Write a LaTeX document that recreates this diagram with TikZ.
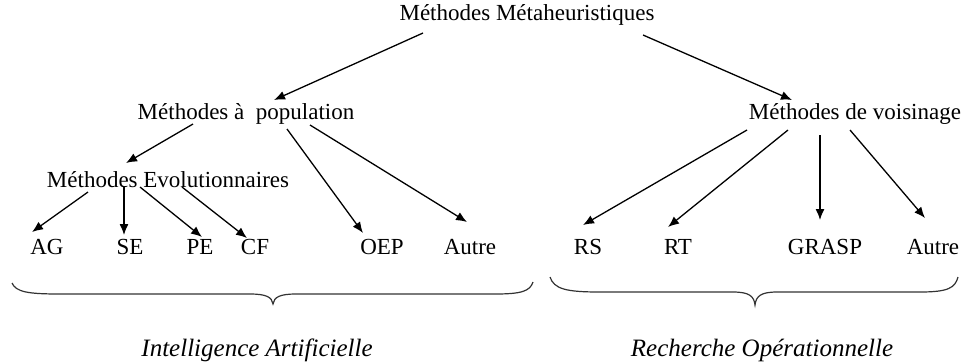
\documentclass[tikz,border=0pt]{standalone}
\usepackage{fontspec}
\setmainfont{Liberation Serif}
\usetikzlibrary{arrows.meta,calc}

\begin{document}
\begin{tikzpicture}[x=0.5pt,y=-0.5pt]
\path [use as bounding box] (0,0) rectangle (961,361);
\tikzstyle{every node} = [inner sep=1pt, font=\fontsize{11.5}{13}\selectfont]
\tikzstyle{fleche} = [-{Latex[length=5.5pt,width=4.5pt]}, line width=0.65pt]
\tikzstyle{accolade} = [line width=0.6pt, black!80]
\tikzstyle{domaine} = [font=\fontsize{12.5}{14}\selectfont\itshape]
% niveaux de l'arbre
\node (meta) at (527,15) {Méthodes Métaheuristiques};
\node (pop) at (246,114) {Méthodes à \ population};
\node (vois) at (855,114) {Méthodes de voisinage};
\node (evol) at (168,180) {Méthodes Evolutionnaires};
\node (ag) at (47,247) {AG};
\node (se) at (130,247) {SE};
\node (pe) at (200,247) {PE};
\node (cf) at (255,247) {CF};
\node (oep) at (382,247) {OEP};
\node (autreA) at (470,247) {Autre};
\node (rs) at (588,247) {RS};
\node (rt) at (678,247) {RT};
\node (grasp) at (825,247) {GRASP};
\node (autreB) at (933,247) {Autre};
\node[domaine] (ia) at (257,350) {Intelligence Artificielle};
\node[domaine] (ro) at (762,350) {Recherche Opérationnelle};
% fleches
\draw[fleche] ($(meta)+(-104,18)$) -- ($(pop)+(28,-14)$);
\draw[fleche] ($(meta)+(116,20)$) -- ($(vois)+(-63,-14)$);
\draw[fleche] ($(pop)+(-53,10)$) -- ($(evol)+(-42,-17)$);
\draw[fleche] ($(pop)+(41,15)$) -- ($(oep)+(-19,-14)$);
\draw[fleche] ($(pop)+(64,11)$) -- ($(autreA)+(-3,-25)$);
\draw[fleche] ($(evol)+(-80,12)$) -- ($(ag)+(-15,-15)$);
\draw[fleche] ($(evol)+(-44,7)$) -- ($(se)+(-6,-12)$);
\draw[fleche] ($(evol)+(-28,7)$) -- ($(pe)+(2,-10)$);
\draw[fleche] ($(evol)+(14,7)$) -- ($(cf)+(-8,-9)$);
\draw[fleche] ($(vois)+(-108,16)$) -- ($(rs)+(-5,-22)$);
\draw[fleche] ($(vois)+(-67,16)$) -- ($(rt)+(-10,-20)$);
\draw[fleche] ($(vois)+(-35,21)$) -- ($(grasp)+(-5,-27)$);
\draw[fleche] ($(vois)+(-5,16)$) -- ($(autreB)+(-8,-29)$);
% accolades
\draw[accolade] (12,283) .. controls (16,292) and (28,294) .. (60,294) -- (250,294)
  .. controls (266,294) and (272,297) .. (273,304) .. controls (274,297) and (280,294) .. (296,294)
  -- (495,294) .. controls (522,294) and (530,291) .. (533,282);
\draw[accolade] (550,277) .. controls (554,289) and (566,292) .. (600,292) -- (733,292)
  .. controls (749,292) and (754,296) .. (755,305) .. controls (756,296) and (761,292) .. (777,292)
  -- (920,292) .. controls (948,292) and (955,288) .. (958,277);
\end{tikzpicture}
\end{document}
